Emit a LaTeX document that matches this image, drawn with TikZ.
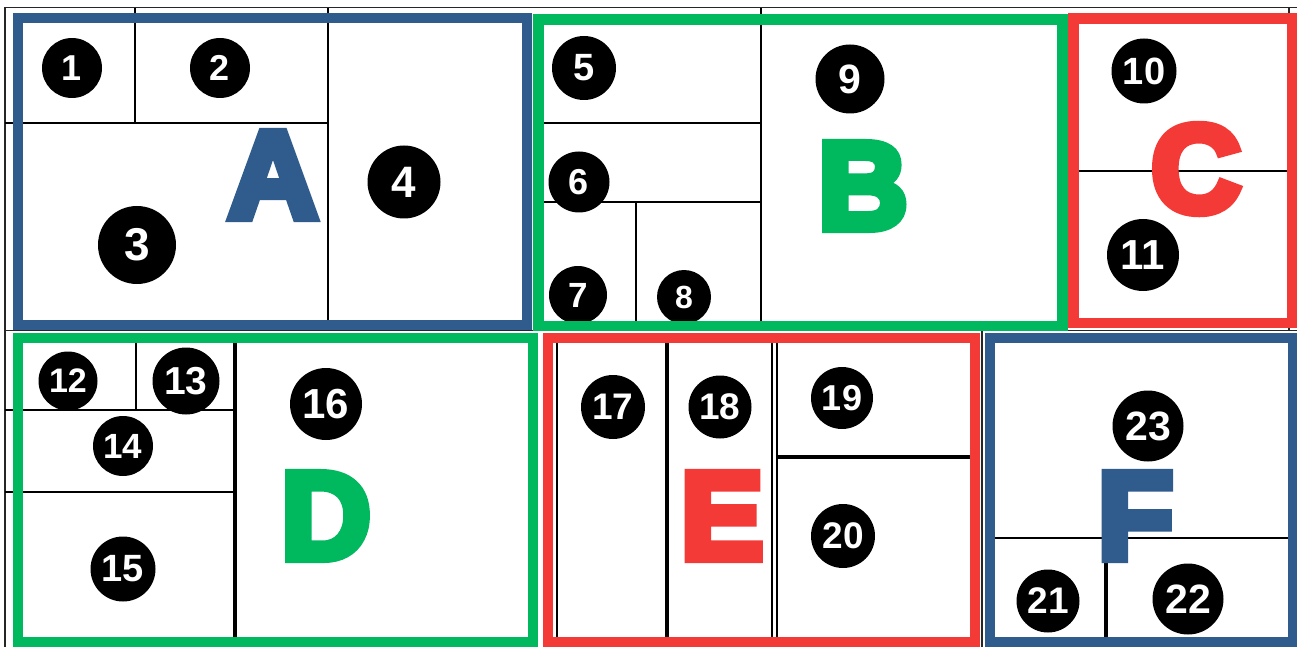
\documentclass[tikz,border=0pt]{standalone}
\usepackage{fontspec}
\setmainfont{Liberation Sans}
\newfontfamily\heavyfont[BoldFeatures={FakeBold=7}]{Liberation Sans}
\definecolor{cblue}{RGB}{47,91,141}
\definecolor{cgreen}{RGB}{0,184,94}
\definecolor{cred}{RGB}{244,58,54}
\tikzset{
  grid/.style={line width=0.9pt,black!85},
  cell/.style={line width=1.3pt,black},
  cellthick/.style={line width=1.8pt,black},
  frame/.style={line width=5.4pt},
  numc/.style={circle,fill=black,text=white,inner sep=0pt,font=\bfseries},
  big/.style={inner sep=0pt,font=\fontsize{62}{62}\heavyfont\bfseries}
}
\newcommand\numdot[6]{\node[numc,minimum size=#4pt,font=\fontsize{#5}{#5}\selectfont\bfseries] (#1) at (#2,#3) {#6};}
\begin{document}
\begin{tikzpicture}[x=0.5pt,y=-0.5pt]
\useasboundingbox[fill=white] (0,0) rectangle (1297,647);
% background grid
\draw[grid] (5,7.5) -- (1297,7.5);
\draw[grid] (5,7.5) -- (5,647);
\draw[grid] (5,330.5) -- (1297,330.5);
\draw[grid] (982,330) -- (982,647);
\draw[grid] (1289,8) -- (1289,330);
% A cells
\draw[cell] (135,8) -- (135,123);
\draw[cell] (5,123) -- (328,123);
\draw[cell] (328,8) -- (328,330);
% B cells
\draw[cell] (761,8) -- (761,330);
\draw[cell] (538,123) -- (761,123);
\draw[cell] (538,202) -- (761,202);
\draw[cell] (636,202) -- (636,330);
% C cells
\draw[cell] (1073,171) -- (1290,171);
% D cells
\draw[cell] (136,338) -- (136,410);
\draw[cell] (5,410) -- (235,410);
\draw[cell] (5,492) -- (235,492);
\draw[cellthick] (235,338) -- (235,647);
% E cells
\draw[cell] (557,338) -- (557,647);
\draw[cellthick] (667,338) -- (667,647);
\draw[cell] (772,338) -- (772,647);
\draw[cell] (777,338) -- (777,647);
\draw[cellthick] (777,457) -- (970,457);
% F cells
\draw[cell] (985,538) -- (1290,538);
\draw[cellthick] (1106,538) -- (1106,647);
% numbers
\numdot{n1}{72}{68}{30}{18}{1}
\numdot{n2}{220}{68}{30}{18}{2}
\numdot{n3}{137}{245}{39}{23}{3}
\numdot{n4}{404}{182}{36.5}{22}{4}
\numdot{n5}{584}{68}{32}{19}{5}
\numdot{n6}{579}{182}{30.5}{18}{6}
\numdot{n7}{578}{295}{29}{17.5}{7}
\numdot{n8}{684}{297}{27}{16}{8}
\numdot{n9}{850}{79}{34.5}{20.5}{9}
\numdot{n10}{1144}{71}{32.5}{19}{10}
\numdot{n11}{1143}{255}{36}{21}{11}
\numdot{n12}{68}{381}{29.5}{17}{12}
\numdot{n13}{186}{381}{33.5}{19.5}{13}
\numdot{n14}{123}{446}{30}{17.5}{14}
\numdot{n15}{123}{569}{32.5}{19}{15}
\numdot{n16}{326}{404}{36}{21}{16}
\numdot{n17}{613}{407}{32}{18.5}{17}
\numdot{n18}{720}{407}{31.5}{18.5}{18}
\numdot{n19}{842}{398}{31}{18}{19}
\numdot{n20}{843}{536}{32}{18.5}{20}
\numdot{n21}{1048}{601}{31.5}{18.5}{21}
\numdot{n22}{1188}{599}{35.5}{20.5}{22}
\numdot{n23}{1148}{426}{35.5}{20.5}{23}
% letters
\node[big,text=cblue] (LA) at (273,175) {A};
\node[big,text=cgreen] (LB) at (863,186) {B};
\node[big,text=cred] (LC) at (1196,169) {C};
\node[big,text=cgreen] (LD) at (326,516) {D};
\node[big,text=cred] (LE) at (722,516) {E};
\node[big,text=cblue] (LF) at (1135.5,516) {F};
% coloured frames
\draw[frame,cblue] (18,18) rectangle (527,325);
\draw[frame,cgreen] (538.5,19.5) rectangle (1062.5,326);
\draw[frame,cred] (1073.5,18.5) rectangle (1292,323);
\draw[frame,cgreen] (18,338) rectangle (533,642);
\draw[frame,cred] (548,338) rectangle (975,642);
\draw[frame,cblue] (990,338) rectangle (1293,642);
\end{tikzpicture}
\end{document}
